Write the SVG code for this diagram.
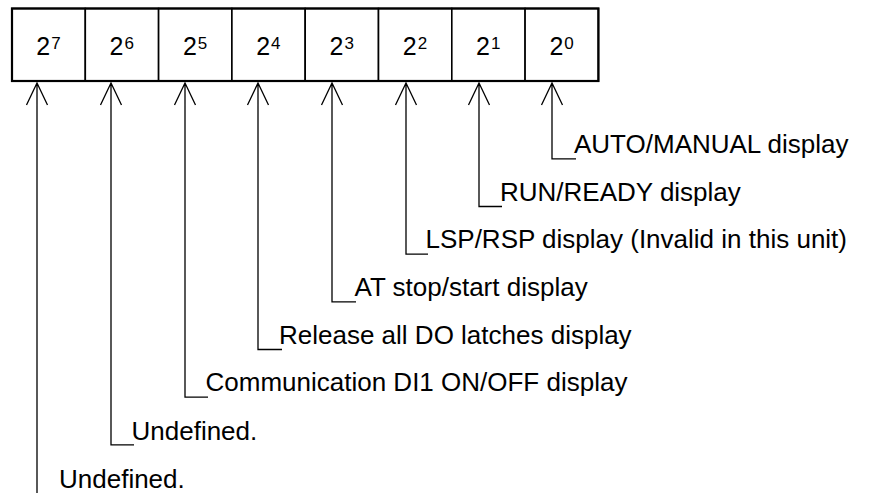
<svg xmlns="http://www.w3.org/2000/svg" width="870" height="493" viewBox="0 0 870 493">
<style>
.cell{fill:#fff;stroke:#000;stroke-width:1.6}
.num{font-family:"Liberation Sans",Arial,sans-serif;font-size:25px;text-anchor:middle;fill:#000}
.sup{font-size:17px}
.lbl{font-family:"Liberation Sans",Arial,sans-serif;font-size:26px;fill:#000}
.ln{fill:none;stroke:#000;stroke-width:1.3}
</style>
<rect x="0" y="0" width="870" height="493" fill="#fff"/>
<g id="bit7"><rect class="cell" x="12" y="8.5" width="73.3" height="72.5"/><text class="num" x="48.5" y="55">2<tspan class="sup" dx="1" dy="-6">7</tspan></text></g>
<g id="bit6"><rect class="cell" x="85.3" y="8.5" width="73.3" height="72.5"/><text class="num" x="121.8" y="55">2<tspan class="sup" dx="1" dy="-6">6</tspan></text></g>
<g id="bit5"><rect class="cell" x="158.6" y="8.5" width="73.3" height="72.5"/><text class="num" x="195.1" y="55">2<tspan class="sup" dx="1" dy="-6">5</tspan></text></g>
<g id="bit4"><rect class="cell" x="231.9" y="8.5" width="73.3" height="72.5"/><text class="num" x="268.4" y="55">2<tspan class="sup" dx="1" dy="-6">4</tspan></text></g>
<g id="bit3"><rect class="cell" x="305.2" y="8.5" width="73.3" height="72.5"/><text class="num" x="341.7" y="55">2<tspan class="sup" dx="1" dy="-6">3</tspan></text></g>
<g id="bit2"><rect class="cell" x="378.5" y="8.5" width="73.3" height="72.5"/><text class="num" x="415" y="55">2<tspan class="sup" dx="1" dy="-6">2</tspan></text></g>
<g id="bit1"><rect class="cell" x="451.8" y="8.5" width="73.3" height="72.5"/><text class="num" x="488.3" y="55">2<tspan class="sup" dx="1" dy="-6">1</tspan></text></g>
<g id="bit0"><rect class="cell" x="525.1" y="8.5" width="73.3" height="72.5"/><text class="num" x="561.6" y="55">2<tspan class="sup" dx="1" dy="-6">0</tspan></text></g>
<rect x="12" y="8.5" width="586.4" height="72.5" fill="none" stroke="#000" stroke-width="2.2"/>
<g id="connectors" class="ln">
<path d="M552,83 V158.8 H576 M541.5,105 L552,83 L562.5,105"/>
<path d="M479,83 V206.5 H502 M468.5,105 L479,83 L489.5,105"/>
<path d="M406,83 V254.2 H428 M395.5,105 L406,83 L416.5,105"/>
<path d="M332,83 V301.8 H356 M321.5,105 L332,83 L342.5,105"/>
<path d="M258,83 V349.5 H282 M247.5,105 L258,83 L268.5,105"/>
<path d="M185,83 V397.2 H208 M174.5,105 L185,83 L195.5,105"/>
<path d="M111,83 V444.8 H134 M100.5,105 L111,83 L121.5,105"/>
<path d="M37,83 V493 M26.5,105 L37,83 L47.5,105"/>
</g>
<g id="label0"><text class="lbl" x="574" y="153.3">AUTO/MANUAL display</text></g>
<g id="label1"><text class="lbl" x="500" y="200.8">RUN/READY display</text></g>
<g id="label2"><text class="lbl" x="425.5" y="248.3">LSP/RSP display (Invalid in this unit)</text></g>
<g id="label3"><text class="lbl" x="354.5" y="296">AT stop/start display</text></g>
<g id="label4"><text class="lbl" x="279" y="343.5">Release all DO latches display</text></g>
<g id="label5"><text class="lbl" x="205.5" y="391">Communication DI1 ON/OFF display</text></g>
<g id="label6"><text class="lbl" x="131.5" y="439.5">Undefined.</text></g>
<g id="label7"><text class="lbl" x="59" y="488">Undefined.</text></g>
</svg>
